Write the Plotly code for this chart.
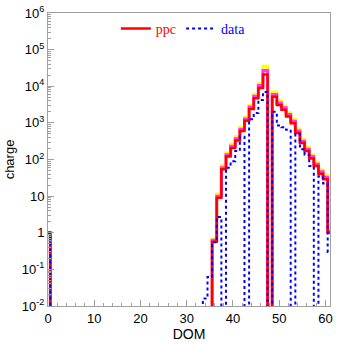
import numpy as np
import plotly.graph_objects as go

# DOM bins (centred on integers)
dom = list(range(0, 62))

ppc = [1] + [0] * 35 + [0.57, 9, 54, 120, 205, 330, 600, 1150, 2400, 4700, 9000, 21000,
                        0, 5200, 3100, 2300, 1500, 980, 530, 280, 170, 107, 66, 41, 29, 1]
ppc_hi = [1] + [0] * 35 + [0.68, 11.5, 68, 150, 260, 420, 760, 1450, 3000, 6000, 12000, 35000,
                           0, 7000, 4000, 2900, 1900, 1250, 680, 360, 215, 135, 84, 52, 37, 1.2]
ppc_mid = [1] + [0] * 35 + [0.62, 10, 60, 135, 230, 370, 670, 1280, 2700, 5300, 10500, 27000,
                            0, 6000, 3500, 2600, 1700, 1100, 600, 315, 190, 120, 74, 46, 33, 1.1]
data = [1] + [0] * 33 + [0.016, 0.062, 0.55, 2.7, 0, 60, 90, 170, 420, 0, 1250, 1850, 4200, 7000,
                         0, 2000, 850, 760, 650, 0, 500, 190, 135, 66, 0, 35, 22, 0.3]

ytickvals = [1e-2, 1e-1, 1, 10, 1e2, 1e3, 1e4, 1e5, 1e6]
yticktext = ["10<sup>-2</sup>", "10<sup>-1</sup>", "1", "10", "10<sup>2</sup>",
             "10<sup>3</sup>", "10<sup>4</sup>", "10<sup>5</sup>", "10<sup>6</sup>"]
xtickvals = [0, 10, 20, 30, 40, 50, 60]


def floor0(v):
    a = np.array(v, dtype=float)
    return np.where(a > 0, a, 1e-5)


fig = go.Figure()
fig.add_trace(go.Scatter(x=dom, y=floor0(ppc_hi), mode="lines", line_shape="hvh",
                         line=dict(color="#ffff00", width=3), showlegend=False, hoverinfo="skip"))
fig.add_trace(go.Scatter(x=dom, y=floor0(ppc_mid), mode="lines", line_shape="hvh",
                         line=dict(color="#ff33ff", width=3), showlegend=False, hoverinfo="skip"))
fig.add_trace(go.Scatter(x=dom, y=floor0(ppc), mode="lines", line_shape="hvh",
                         line=dict(color="#ff0000", width=2.5),
                         name="<span style='color:#ff0000'>ppc</span>"))
fig.add_trace(go.Scatter(x=dom, y=floor0(data), mode="lines", line_shape="hvh",
                         line=dict(color="#0000ff", width=2, dash="dot"),
                         name="<span style='color:#0000ff'>data</span>"))

axis_common = dict(showline=True, mirror=True, linecolor="#a0a0a0", linewidth=1,
                   ticks="inside", tickcolor="#a0a0a0", showgrid=False, zeroline=False,
                   tickfont=dict(family="Liberation Sans, Arial", size=13, color="black"))

fig.update_xaxes(range=[0, 61], tickmode="array", tickvals=xtickvals, ticklen=6,
                 minor=dict(ticks="inside", ticklen=3, dtick=2, tickcolor="#a0a0a0", showgrid=False),
                 title=dict(text="DOM", font=dict(family="Liberation Sans, Arial", size=14, color="black"),
                            standoff=4),
                 **axis_common)
fig.update_yaxes(type="log", range=[-2, 6], tickmode="array", tickvals=ytickvals,
                 ticktext=yticktext, ticklen=6,
                 minor=dict(ticks="inside", ticklen=3, dtick="D1", tickcolor="#a0a0a0", showgrid=False),
                 title=dict(text="charge", font=dict(family="Liberation Sans, Arial", size=13, color="black"),
                            standoff=4),
                 **axis_common)

fig.update_layout(
    width=337, height=344,
    margin=dict(l=48, r=4, t=11, b=38),
    paper_bgcolor="white", plot_bgcolor="white",
    legend=dict(orientation="h", x=0.48, xanchor="center", y=1.0, yanchor="top",
                bgcolor="rgba(0,0,0,0)", font=dict(family="Liberation Serif, Times New Roman", size=14),
                itemwidth=30, tracegroupgap=0),
)

fig.write_html("out.html")
